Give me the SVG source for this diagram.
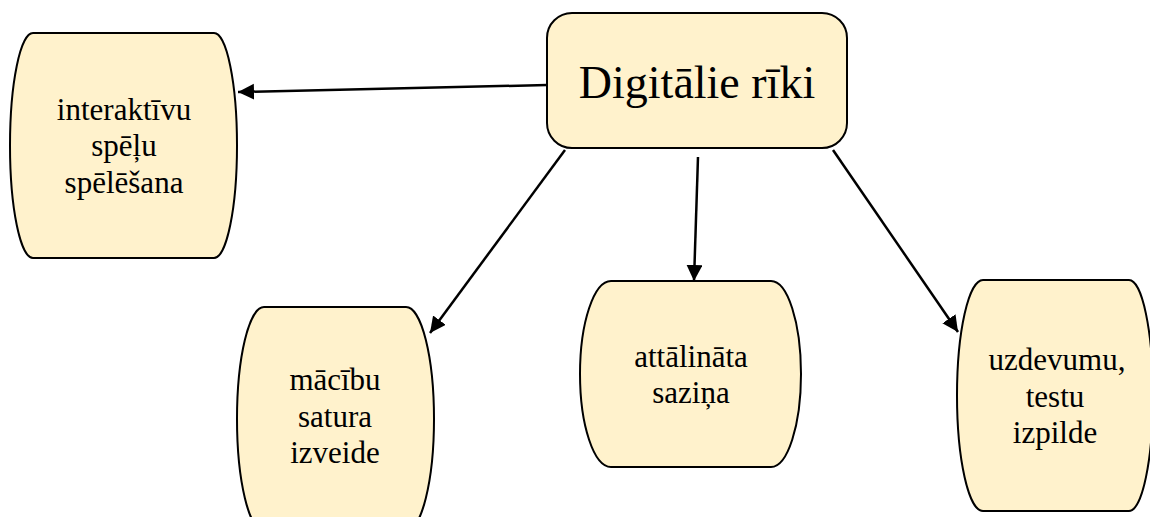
<svg xmlns="http://www.w3.org/2000/svg" width="1150" height="517" viewBox="0 0 1150 517">
<defs>
<style>
.node{fill:#FFF2CC;stroke:#000;stroke-width:2}
.t{font-family:"Liberation Serif","Times New Roman",serif;font-size:31px;fill:#000;text-anchor:middle}
.big{font-size:46px}
.edge{stroke:#000;stroke-width:2.5;fill:none;marker-end:url(#arr)}
</style>
<marker id="arr" markerUnits="userSpaceOnUse" markerWidth="18" markerHeight="18" refX="16" refY="8" orient="auto" viewBox="0 0 18 18">
<path d="M0,0 L16,8 L0,16 Z" fill="#000"/>
</marker>
</defs>
<g id="connectors">
<line class="edge" x1="547" y1="85" x2="238" y2="92"/>
<line class="edge" x1="565" y1="150" x2="430" y2="333"/>
<line class="edge" x1="698" y1="157" x2="694" y2="281"/>
<line class="edge" x1="833" y1="150" x2="958" y2="332"/>
</g>
<g id="center">
<rect class="node" x="547" y="13" width="300" height="135" rx="25" ry="25"/>
<text class="t big" x="697" y="98">Digitālie rīki</text>
</g>
<g id="n1">
<path class="node" d="M33,33 H214 A23,112.5 0 0 1 214,258 H33 A23,112.5 0 0 1 33,33 Z"/>
<text class="t" x="124" y="120">interaktīvu</text>
<text class="t" x="124" y="156">spēļu</text>
<text class="t" x="124" y="193">spēlēšana</text>
</g>
<g id="n2">
<path class="node" d="M264,307 H406 A28,112 0 0 1 406,531 H264 A27,112 0 0 1 264,307 Z"/>
<text class="t" x="335" y="390">mācību</text>
<text class="t" x="335" y="427">satura</text>
<text class="t" x="335" y="463">izveide</text>
</g>
<g id="n3">
<path class="node" d="M611,281 H771 A30,93 0 0 1 771,467 H611 A31,93 0 0 1 611,281 Z"/>
<text class="t" x="691" y="367">attālināta</text>
<text class="t" x="691" y="403">saziņa</text>
</g>
<g id="n4">
<path class="node" d="M983,280 H1129 A24,115.5 0 0 1 1129,511 H983 A26,115.5 0 0 1 983,280 Z"/>
<text class="t" x="1057" y="370">uzdevumu,</text>
<text class="t" x="1055" y="407">testu</text>
<text class="t" x="1055" y="443">izpilde</text>
</g>
</svg>
